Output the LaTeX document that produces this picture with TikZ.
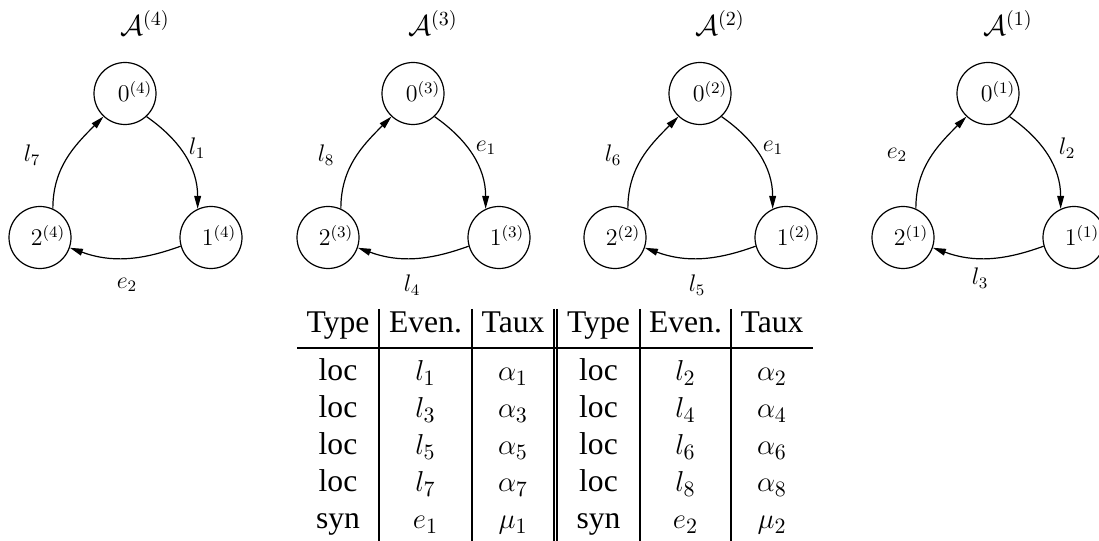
\documentclass[tikz,border=0pt]{standalone}
\usepackage[no-math]{fontspec}
\newfontfamily\tabfont{Liberation Serif}
\usetikzlibrary{arrows.meta}
\begin{document}
\begin{tikzpicture}[x=0.5pt,y=0.5pt,
  st/.style={circle,draw,line width=0.6pt,minimum size=31pt,inner sep=0pt},
  stlbl/.style={anchor=base,inner sep=0pt,font=\fontsize{12}{14}\selectfont},
  elbl/.style={inner sep=0pt,font=\fontsize{12}{14}\selectfont},
  ttl/.style={anchor=base,inner sep=0pt,font=\fontsize{14.4}{18}\selectfont},
  edgearrow/.style={line width=0.6pt,-{Triangle[length=6.5pt,width=3.4pt]}},
  cell/.style={anchor=base,inner sep=0pt,font=\fontsize{15.8}{18}\selectfont\tabfont},
  tline/.style={line width=0.6pt}]
\useasboundingbox (0,0) rectangle (1099,541);
\foreach \dx/\k/\lt/\rt/\bt/\lx/\rx/\bx/\by/\p in
  {0/4/l_7/l_1/e_2/32/197/127/256/a,
   288/3/l_8/e_1/l_4/38/198/124/256/b,
   575/2/l_6/e_1/l_5/38/198/122/256/c,
   863/1/e_2/l_2/l_3/34/204/117/263/d}{
  \node[ttl] (\p t) at (\dx+145,505) {$\mathcal{A}^{(\k)}$};
  \node[st] (\p0) at (\dx+125,447.5) {};
  \node[st] (\p1) at (\dx+211,303.5) {};
  \node[st] (\p2) at (\dx+40,303.5) {};
  \node[stlbl] (\p0l) at (\dx+135,439) {$0^{(\k)}$};
  \node[stlbl] (\p1l) at (\dx+219,295) {$1^{(\k)}$};
  \node[stlbl] (\p2l) at (\dx+48,295) {$2^{(\k)}$};
  \draw[edgearrow] (\p0.-47) to[out=-35,in=90] (\p1.115);
  \draw[edgearrow] (\p1.196) to[out=200,in=-20] (\p2.-19);
  \draw[edgearrow] (\p2.66) to[out=90,in=225] (\p0.227);
  \node[elbl] (\p el) at (\dx+\lx,386) {$\lt$};
  \node[elbl] (\p er) at (\dx+\rx,393) {$\rt$};
  \node[elbl] (\p eb) at (\dx+\bx,\by) {$\bt$};
}
% table
\foreach \x/\t [count=\i] in {338/Type,425.5/Even.,513/Taux,598.5/Type,685.5/Even.,772/Taux}
  \node[cell] (h\i) at (\x,208) {\t};
\foreach \y/\a/\b/\c/\d/\e/\f [count=\r] in
  {160/loc/$l_1$/$\alpha_1$/loc/$l_2$/$\alpha_2$,
   123/loc/$l_3$/$\alpha_3$/loc/$l_4$/$\alpha_4$,
   86/loc/$l_5$/$\alpha_5$/loc/$l_6$/$\alpha_6$,
   49/loc/$l_7$/$\alpha_7$/loc/$l_8$/$\alpha_8$,
   12/syn/$e_1$/$\mu_1$/syn/$e_2$/$\mu_2$}{
  \node[cell] (r\r c1) at (338,\y) {\a};
  \node[cell] (r\r c2) at (425.5,\y) {\b};
  \node[cell] (r\r c3) at (513,\y) {\c};
  \node[cell] (r\r c4) at (598.5,\y) {\d};
  \node[cell] (r\r c5) at (685.5,\y) {\e};
  \node[cell] (r\r c6) at (772,\y) {\f};
}
\draw[line width=1pt] (297,193) -- (813,193);
\foreach \x in {379,472,554,557,640,731}
  \draw[tline] (\x,232) -- (\x,0);
\end{tikzpicture}
\end{document}
